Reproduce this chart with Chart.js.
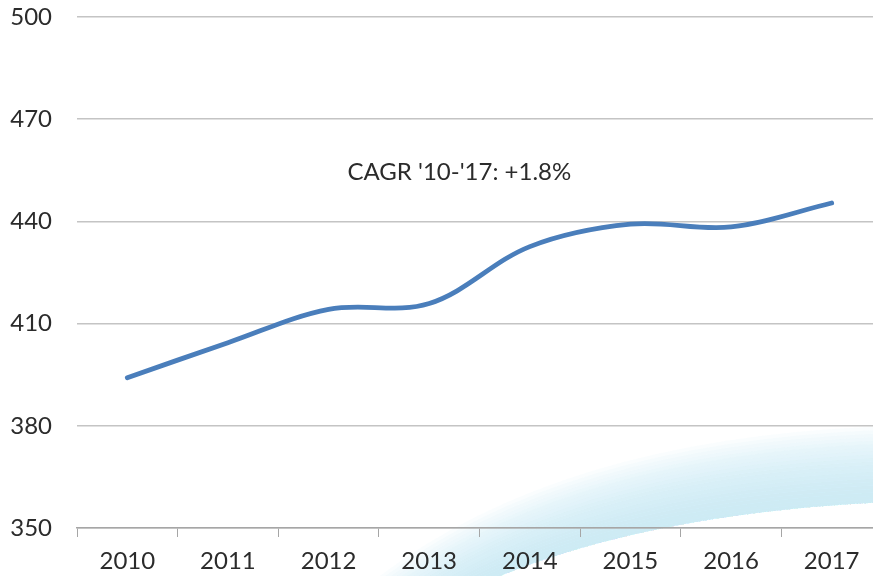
<!DOCTYPE html>
<html>
<head>
<meta charset="utf-8">
<script src="https://cdn.jsdelivr.net/npm/chart.js@4"></script>
<style>
  html, body { margin: 0; padding: 0; background: #ffffff; overflow: hidden; }
  #wrap { width: 873px; height: 576px; position: relative; overflow: hidden; }
  #c { position: absolute; left: 0; top: 0; }
</style>
</head>
<body>
<div id="wrap"><canvas id="c" width="882" height="576"></canvas></div>
<script>
const years = ['2010', '2011', '2012', '2013', '2014', '2015', '2016', '2017'];
const values = [394.1, 404.4, 414.2, 415.9, 432.6, 439.2, 438.4, 445.4];
const yTicks = [350, 380, 410, 440, 470, 500];
const annotationText = "CAGR '10-'17: +1.8%";
const VISIBLE_W = 873;

// decorative background swoosh (not data): soft band fading upward
const swoosh = {
  id: 'swoosh',
  beforeDraw(chart) {
    const ctx = chart.ctx;
    const W = VISIBLE_W, H = chart.height;
    const lower = [[0.573, 1.0], [0.745, 0.894], [1.0, 0.873]];
    const upper = [[0.435, 1.0], [0.641, 0.764], [1.0, 0.741]];
    const n = 22;
    ctx.save();
    ctx.fillStyle = 'rgba(198,230,248,0.085)';
    for (let k = 1; k <= n; k++) {
      const f = k / n;
      const p = lower.map((q, i) => [q[0] + f * (upper[i][0] - q[0]), q[1] + f * (upper[i][1] - q[1])]);
      ctx.beginPath();
      ctx.moveTo(lower[0][0] * W, lower[0][1] * H);
      ctx.quadraticCurveTo(lower[1][0] * W, lower[1][1] * H, lower[2][0] * W, lower[2][1] * H);
      ctx.lineTo(chart.width, lower[2][1] * H);
      ctx.lineTo(chart.width, p[2][1] * H);
      ctx.lineTo(p[2][0] * W, p[2][1] * H);
      ctx.quadraticCurveTo(p[1][0] * W, p[1][1] * H, p[0][0] * W, p[0][1] * H);
      ctx.closePath();
      ctx.fill();
    }
    ctx.restore();
  }
};

const annotation = {
  id: 'annotation',
  afterDatasetsDraw(chart) {
    const ctx = chart.ctx;
    const x = chart.scales.x.getPixelForValue(3.3);
    const y = chart.scales.y.getPixelForValue(454.5);
    ctx.save();
    ctx.font = '24px Lato';
    ctx.fillStyle = '#2b2b2b';
    ctx.textAlign = 'center';
    ctx.textBaseline = 'middle';
    ctx.fillText(annotationText, x, y);
    ctx.restore();
  }
};

new Chart(document.getElementById('c'), {
  type: 'line',
  data: {
    labels: years,
    datasets: [{
      data: values,
      borderColor: '#4a7ebb',
      borderWidth: 4.8,
      borderCapStyle: 'round',
      pointRadius: 0,
      tension: 0.35,
      fill: false
    }]
  },
  options: {
    responsive: false,
    animation: false,
    layout: { padding: { top: 17, right: 0, left: 0, bottom: 0 } },
    plugins: { legend: { display: false }, tooltip: { enabled: false } },
    scales: {
      x: {
        offset: true,
        grid: { drawOnChartArea: false, drawTicks: true, tickLength: 9, color: '#a6a6a6', offset: true },
        border: { display: true, color: '#a6a6a6', width: 1.5 },
        ticks: { color: '#2b2b2b', font: { family: 'Lato', size: 24 }, padding: 10, maxRotation: 0 },
        afterFit(scale) { scale.height = 48; scale.paddingLeft = 0; scale.paddingRight = 0; }
      },
      y: {
        min: 350, max: 500,
        afterBuildTicks(scale) { scale.ticks = yTicks.map(v => ({ value: v })); },
        grid: { drawTicks: false, color: '#c4c4c4', lineWidth: 1.5 },
        border: { display: false },
        ticks: { color: '#2b2b2b', font: { family: 'Lato', size: 24 }, padding: 25 },
        afterFit(scale) { scale.width = 77; scale.paddingTop = 0; scale.paddingBottom = 0; }
      }
    }
  },
  plugins: [swoosh, annotation]
});
</script>
</body>
</html>
